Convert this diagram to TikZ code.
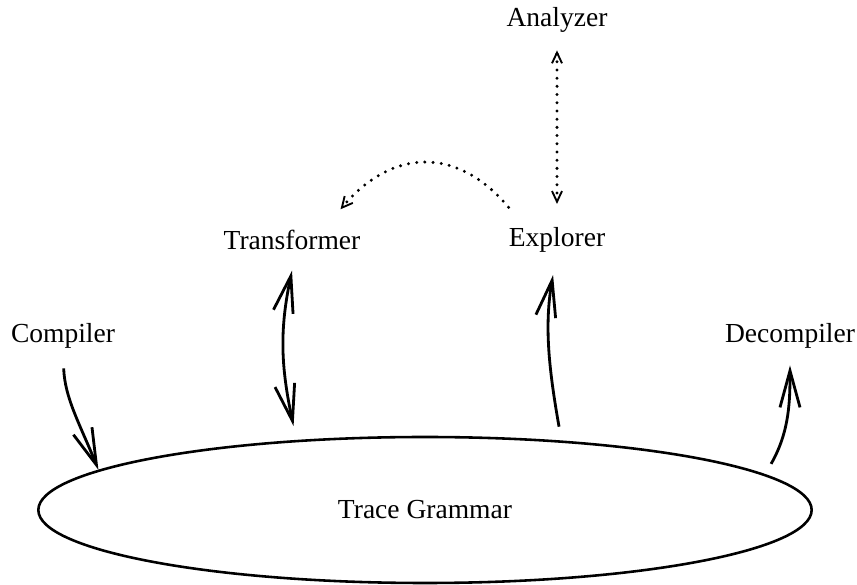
\documentclass[tikz,border=0pt]{standalone}
\usepackage{fontspec}
\setmainfont{Liberation Serif}
\usetikzlibrary{arrows.meta,shapes.geometric}
\begin{document}
\begin{tikzpicture}
\tikzstyle{word} = [inner sep=0pt, font=\fontsize{23.5}{28}\selectfont]
\tikzstyle{arrow} = [line width=2.4pt, -{Straight Barb[length=1.1cm,width=0.6cm]}]
\tikzstyle{twoway} = [line width=2.4pt, {Straight Barb[length=1.1cm,width=0.6cm]}-{Straight Barb[length=1.1cm,width=0.6cm]}]
\tikzstyle{dotarrow} = [line width=2.8pt, line cap=round, dash pattern=on 0pt off 7pt, {Straight Barb[length=0.32cm,width=0.3cm,line width=1.6pt]}-{Straight Barb[length=0.32cm,width=0.3cm,line width=1.6pt]}]
\tikzstyle{dotone} = [line width=2.8pt, line cap=round, dash pattern=on 0pt off 7pt, -{Straight Barb[length=0.32cm,width=0.32cm,line width=1.6pt]}]
\useasboundingbox (0,0) rectangle (25.71,17.55);
%
\node (1) [ellipse, draw, line width=2.2pt, inner sep=0pt, minimum width=23.2cm, minimum height=4.38cm, font=\fontsize{23.5}{28}\selectfont] at (12.75,2.25) {Trace Grammar};
\node (2) [word] at (1.89,7.47)   {Compiler};
\node (3) [word] at (8.76,10.35)  {Transformer};
\node (4) [word] at (16.71,10.35) {Explorer};
\node (5) [word] at (16.71,16.95) {Analyzer};
\node (6) [word] at (23.7,7.47)   {Decompiler};
%
\draw [arrow, shorten <=0.59cm] (2.south) to[out=-88, in=112] (1.173.3);
\draw [twoway] ([yshift=-0.62cm]3.south) to[out=-102, in=102] ([yshift=0.42cm]1.152.5);
\draw [arrow, shorten <=0.42cm, shorten >=0.68cm] (1.27.3) to[out=100, in=-100] (4.south);
\draw [arrow, shorten <=0.36cm, shorten >=0.5cm] (1.6.8) to[out=60, in=-90] (6.south);
\draw [dotarrow, shorten <=0.53cm, shorten >=0.7cm] (5.south) -- (4.north);
\draw [dotone] ([yshift=0.6cm]4.north west) .. controls +(130:2.4) and +(50:2.4) .. ([xshift=-0.6cm,yshift=0.62cm]3.north east);
\end{tikzpicture}
\end{document}
